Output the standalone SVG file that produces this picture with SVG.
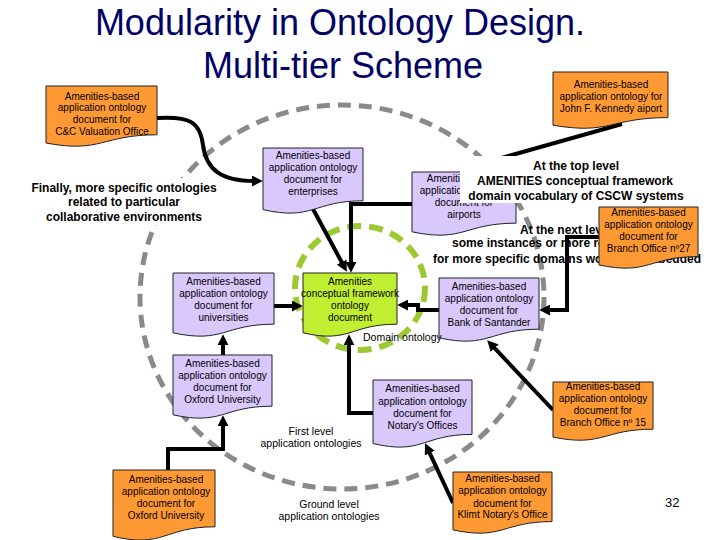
<svg xmlns="http://www.w3.org/2000/svg" width="720" height="540" viewBox="0 0 720 540">
<style>
  .t{font-family:"Liberation Sans",Arial,sans-serif;fill:#000}
  .nt{font-family:"Liberation Sans",Arial,sans-serif;font-size:10px;text-anchor:middle;fill:#000}
  .bt{font-family:"Liberation Sans",Arial,sans-serif;font-size:12px;font-weight:bold;text-anchor:middle;fill:#000}
  .lb{font-family:"Liberation Sans",Arial,sans-serif;font-size:10.5px;text-anchor:middle;fill:#000}
  .org{fill:#ff9933;stroke:#222;stroke-width:1}
  .lav{fill:#d8c8fc;stroke:#222;stroke-width:1}
  .grn{fill:#c0ee30;stroke:#222;stroke-width:1}
  .con{fill:none;stroke:#000;stroke-width:4;stroke-linejoin:miter;marker-end:url(#ah)}
  .title{font-family:"Liberation Sans",Arial,sans-serif;font-size:36px;text-anchor:middle;fill:#000066}
</style>
<defs>
  <marker id="ah" viewBox="0 0 10 10" refX="2" refY="5" markerWidth="11" markerHeight="11" markerUnits="userSpaceOnUse" orient="auto">
    <path d="M0,0 L10,5 L0,10 Z" fill="#000"/>
  </marker>
</defs>
<rect x="0" y="0" width="720" height="540" fill="#fff"/>

<g id="title">
  <text class="title" x="340" y="35">Modularity in Ontology Design.</text>
  <text class="title" x="343" y="78">Multi-tier Scheme</text>
</g>

<g id="levels">
  <ellipse cx="342" cy="297" rx="202" ry="192" fill="none" stroke="#8a8a8a" stroke-width="5" stroke-dasharray="13 8"/>
  <ellipse cx="360" cy="288" rx="65" ry="62" fill="none" stroke="#9cc832" stroke-width="6" stroke-dasharray="14 8"/>
</g>

<g id="next-level-text">
  <text class="bt" x="566" y="234">At the next level</text>
  <text class="bt" x="452" y="247" style="text-anchor:start">some instances or more refined concepts</text>
  <text class="bt" x="567" y="263">for more specific domains would be embedded</text>
</g>

<g id="connectors">
  <path class="con" d="M157,118 C190,116 200,122 203,145 C206,170 222,181 254,181"/>
  <path class="con" d="M622,124 L487,162"/>
  <path class="con" d="M313,209 L342.7,264"/>
  <path class="con" d="M412,204 H351 V264"/>
  <path class="con" d="M274,306 H294"/>
  <path class="con" d="M439,310 H418 V305 H406"/>
  <path class="con" d="M599,237 H567 V310 H548"/>
  <path class="con" d="M373,413 H349 V343"/>
  <path class="con" d="M223,355 V343"/>
  <path class="con" d="M168,470 V449 H223 V424"/>
  <path class="con" d="M453,503 L428.8,451.2"/>
  <path class="con" d="M553,410 L493.2,346.6"/>
</g>

<g id="node-cc">
  <path class="org" d="M46,86 H157 V134.8 C101.5,134.8 101.5,153.5 46,143 Z"/>
  <text class="nt" x="102" y="99.5">Amenities-based</text>
  <text class="nt" x="102" y="111">application ontology</text>
  <text class="nt" x="102" y="123">document for</text>
  <text class="nt" x="102" y="135">C&amp;C Valuation Office</text>
</g>

<g id="node-jfk">
  <path class="org" d="M553,72 H668 V117.6 C610.5,117.6 610.5,135.1 553,125.2 Z"/>
  <text class="nt" x="611" y="88">Amenities-based</text>
  <text class="nt" x="611" y="100">application ontology for</text>
  <text class="nt" x="611" y="111.5">John F. Kennedy aiport</text>
</g>

<g id="node-enterprises">
  <path class="lav" d="M263,148 H363 V200.8 C313,200.8 313,221.1 263,209.6 Z"/>
  <text class="nt" x="313" y="159">Amenities-based</text>
  <text class="nt" x="313" y="171">application ontology</text>
  <text class="nt" x="313" y="183">document for</text>
  <text class="nt" x="313" y="195">enterprises</text>
</g>

<g id="node-airports">
  <path class="lav" d="M412,172 H516 V223.2 C464,223.2 464,242.8 412,231.8 Z"/>
  <text class="nt" x="464" y="182">Amenities-based</text>
  <text class="nt" x="464" y="194">application ontology</text>
  <text class="nt" x="464" y="206">document for</text>
  <text class="nt" x="464" y="218">airports</text>
</g>

<g id="node-universities">
  <path class="lav" d="M173,273 H274 V324.2 C223.5,324.2 223.5,343.8 173,332.8 Z"/>
  <text class="nt" x="223.5" y="285">Amenities-based</text>
  <text class="nt" x="223.5" y="297">application ontology</text>
  <text class="nt" x="223.5" y="309">document for</text>
  <text class="nt" x="223.5" y="320.5">universities</text>
</g>

<g id="node-framework">
  <path class="grn" d="M303,273 H397 V324.2 C350,324.2 350,343.8 303,332.8 Z"/>
  <text class="nt" x="350" y="284.5">Amenities</text>
  <text class="nt" x="350" y="296.5">conceptual framework</text>
  <text class="nt" x="350" y="308.5">ontology</text>
  <text class="nt" x="350" y="320.5">document</text>
</g>

<g id="node-santander">
  <path class="lav" d="M439,278 H539 V329.2 C489,329.2 489,348.8 439,337.8 Z"/>
  <text class="nt" x="489" y="290">Amenities-based</text>
  <text class="nt" x="489" y="302">application ontology</text>
  <text class="nt" x="489" y="314">document for</text>
  <text class="nt" x="489" y="326">Bank of Santander</text>
</g>

<g id="node-branch27">
  <path class="org" d="M599,207 H698 V256.6 C648.5,256.6 648.5,275.6 599,264.9 Z"/>
  <text class="nt" x="648.5" y="216">Amenities-based</text>
  <text class="nt" x="648.5" y="228">application ontology</text>
  <text class="nt" x="648.5" y="240">document for</text>
  <text class="nt" x="648.5" y="252">Branch Office nº27</text>
</g>

<g id="node-oxford-first">
  <path class="lav" d="M173,355 H272 V406.2 C222.5,406.2 222.5,425.8 173,414.8 Z"/>
  <text class="nt" x="222.5" y="367">Amenities-based</text>
  <text class="nt" x="222.5" y="379">application ontology</text>
  <text class="nt" x="222.5" y="391">document for</text>
  <text class="nt" x="222.5" y="403">Oxford University</text>
</g>

<g id="node-notary">
  <path class="lav" d="M373,380 H472 V434.4 C422.5,434.4 422.5,455.3 373,443.5 Z"/>
  <text class="nt" x="422.5" y="392">Amenities-based</text>
  <text class="nt" x="422.5" y="404.5">application ontology</text>
  <text class="nt" x="422.5" y="416.5">document for</text>
  <text class="nt" x="422.5" y="428.5">Notary's Offices</text>
</g>

<g id="node-branch15">
  <path class="org" d="M553,382 H653 V429.2 C603,429.2 603,447.3 553,437.1 Z"/>
  <text class="nt" x="603" y="390">Amenities-based</text>
  <text class="nt" x="603" y="402">application ontology</text>
  <text class="nt" x="603" y="414">document for</text>
  <text class="nt" x="603" y="426">Branch Office nº 15</text>
</g>

<g id="node-klimt">
  <path class="org" d="M453,472 H552 V521.6 C502.5,521.6 502.5,540.6 453,529.9 Z"/>
  <text class="nt" x="502.5" y="482">Amenities-based</text>
  <text class="nt" x="502.5" y="494">application ontology</text>
  <text class="nt" x="502.5" y="506.5">document for</text>
  <text class="nt" x="502.5" y="518">Klimt Notary's Office</text>
</g>

<g id="node-oxford-ground">
  <path class="org" d="M113,470 H215 V526.8 C164,526.8 164,548.6 113,536.3 Z"/>
  <text class="nt" x="166" y="482.5">Amenities-based</text>
  <text class="nt" x="166" y="494.5">application ontology</text>
  <text class="nt" x="166" y="506.5">document for</text>
  <text class="nt" x="166" y="518.5">Oxford University</text>
</g>

<g id="top-level-text">
  <rect x="460" y="156" width="230" height="47" fill="#fff"/>
  <text class="bt" x="576" y="169.5">At the top level</text>
  <text class="bt" x="575" y="184.5">AMENITIES conceptual framework</text>
  <text class="bt" x="576" y="200">domain vocabulary of CSCW systems</text>
</g>

<g id="finally-text">
  <rect x="28" y="178" width="192" height="47" fill="#fff"/>
  <text class="bt" x="124" y="191.5">Finally, more specific ontologies</text>
  <text class="bt" x="124" y="206">related to particular</text>
  <text class="bt" x="124" y="220.5">collaborative environments</text>
</g>

<g id="labels">
  <text class="t" x="363" y="341" font-size="10.5">Domain ontology</text>
  <text class="lb" x="311" y="435">First level</text>
  <text class="lb" x="311" y="446.5">application ontologies</text>
  <text class="lb" x="329" y="508">Ground level</text>
  <text class="lb" x="329" y="519.5">application ontologies</text>
  <text class="t" x="665" y="507" font-size="13" fill="#333">32</text>
</g>
</svg>
